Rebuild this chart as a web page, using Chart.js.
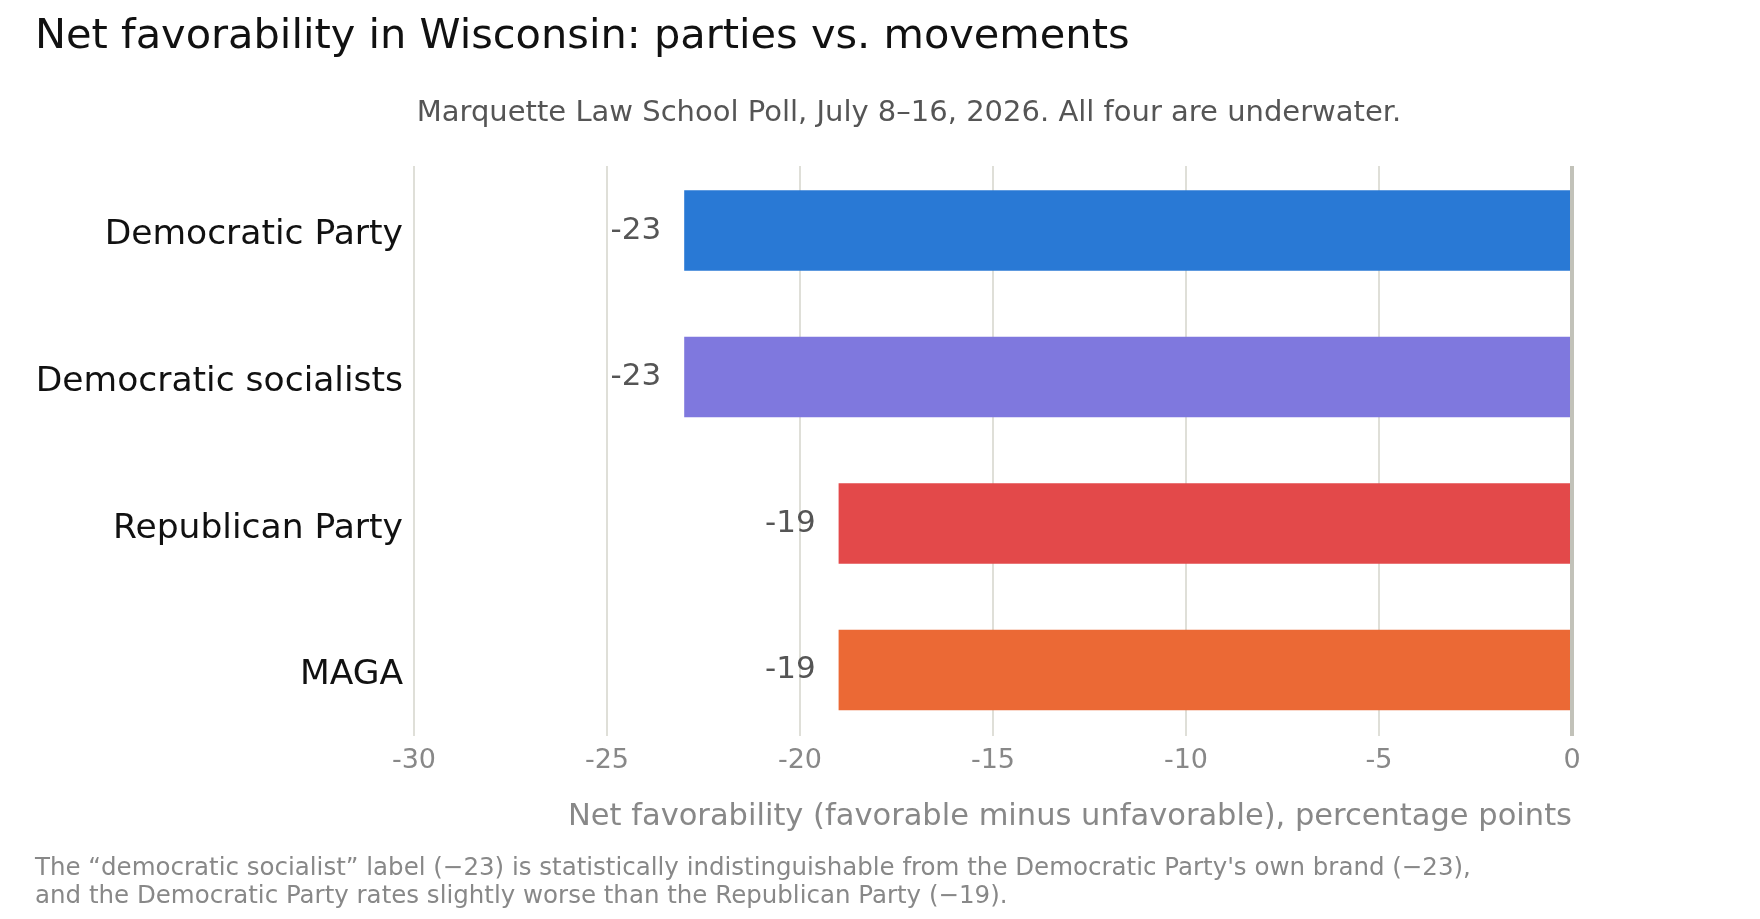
<!DOCTYPE html>
<html>
<head>
<meta charset="utf-8">
<script src="https://cdn.jsdelivr.net/npm/chart.js@4.4.1/dist/chart.umd.min.js"></script>
<style>
  html, body { margin: 0; padding: 0; background: #fff; }
  #wrap { width: 1760px; height: 919px; position: relative; }
</style>
</head>
<body>
<div id="wrap"><canvas id="favChart"></canvas></div>
<script>
var groups = ["Democratic Party", "Democratic socialists", "Republican Party", "MAGA"];
var netFav = [-23, -23, -19, -19];
var barColors = ["#2979d5", "#7f78de", "#e3494a", "#eb6935"];
var xTicks = [-30, -25, -20, -15, -10, -5, 0];

var titleText = "Net favorability in Wisconsin: parties vs. movements";
var subtitleText = "Marquette Law School Poll, July 8\u201316, 2026. All four are underwater.";
var xTitleText = "Net favorability (favorable minus unfavorable), percentage points";
var noteLines = [
  "The \u201cdemocratic socialist\u201d label (\u221223) is statistically indistinguishable from the Democratic Party's own brand (\u221223),",
  "and the Democratic Party rates slightly worse than the Republican Party (\u221219)."
];

var FONT = "'DejaVu Sans', sans-serif";

// rows placed on a numeric axis so the outer padding matches the original
var rows = groups.map(function (g, i) { return { x: netFav[i], y: i }; });

// titles, axis title, footnote and bar value labels
var textPlugin = {
  id: "textPlugin",
  afterDraw: function (chart) {
    var ctx = chart.ctx;
    var area = chart.chartArea;
    ctx.save();
    ctx.textBaseline = "middle";

    ctx.fillStyle = "#111";
    ctx.font = "41.5px " + FONT;
    ctx.textAlign = "left";
    ctx.fillText(titleText, 35, 37);

    ctx.fillStyle = "#555";
    ctx.font = "29px " + FONT;
    ctx.textAlign = "center";
    ctx.fillText(subtitleText, 909, 113);

    ctx.fillStyle = "#888";
    ctx.font = "30.5px " + FONT;
    ctx.textAlign = "right";
    ctx.fillText(xTitleText, area.right, 817);

    ctx.font = "24.5px " + FONT;
    ctx.textAlign = "left";
    ctx.fillText(noteLines[0], 35, 869);
    ctx.fillText(noteLines[1], 35, 897);

    var meta = chart.getDatasetMeta(0);
    ctx.fillStyle = "#555";
    ctx.font = "31px " + FONT;
    ctx.textAlign = "right";
    meta.data.forEach(function (bar, i) {
      ctx.fillText(String(netFav[i]), bar.x - 23, bar.y);
    });
    ctx.restore();
  }
};

var ctx = document.getElementById("favChart").getContext("2d");
new Chart(ctx, {
  type: "bar",
  data: {
    datasets: [
      {
        data: rows,
        backgroundColor: barColors,
        borderWidth: 0,
        barPercentage: 0.55,
        categoryPercentage: 1.0,
      },
    ],
  },
  options: {
    indexAxis: "y",
    responsive: true,
    maintainAspectRatio: false,
    animation: false,
    devicePixelRatio: 1,
    layout: {
      padding: { top: 166, right: 188, bottom: 0, left: 0 },
    },
    plugins: {
      legend: { display: false },
      tooltip: { enabled: false },
    },
    scales: {
      x: {
        type: "linear",
        min: -30,
        max: 0,
        afterBuildTicks: function (scale) {
          scale.ticks = xTicks.map(function (v) { return { value: v }; });
        },
        afterFit: function (scale) {
          scale.height = 183;
        },
        border: { display: false },
        grid: {
          drawTicks: false,
          color: function (c) { return c.tick && c.tick.value === 0 ? "#c2c2b9" : "#dfdfd8"; },
          lineWidth: function (c) { return c.tick && c.tick.value === 0 ? 4 : 2; },
        },
        ticks: {
          padding: 9,
          color: "#888",
          font: { family: FONT, size: 27 },
        },
      },
      y: {
        type: "linear",
        reverse: true,
        offset: false,
        min: -0.44,
        max: groups.length - 1 + 0.45,
        afterBuildTicks: function (scale) {
          scale.ticks = groups.map(function (g, i) { return { value: i }; });
        },
        afterFit: function (scale) {
          scale.width = 414;
        },
        border: { display: false },
        grid: { display: false, drawTicks: false, offset: false },
        ticks: {
          padding: 11,
          labelOffset: 5,
          color: "#111",
          font: { family: FONT, size: 34.5 },
          callback: function (v) { return groups[v]; },
        },
      },
    },
  },
  plugins: [textPlugin],
});
</script>
</body>
</html>
